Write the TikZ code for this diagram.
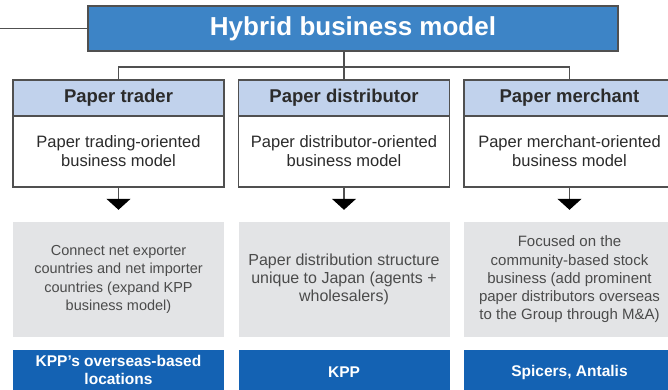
\documentclass[tikz,border=0pt]{standalone}
\usepackage{fontspec}
\setmainfont{Liberation Sans}
\usetikzlibrary{arrows.meta}
\definecolor{titleblue}{HTML}{3D84C6}
\definecolor{hdrblue}{HTML}{C1D2EC}
\definecolor{edgegray}{HTML}{505050}
\definecolor{boxgray}{HTML}{E3E4E6}
\definecolor{deepblue}{HTML}{1462B3}
\definecolor{txt}{HTML}{2B2B2B}
\tikzset{
  titlebox/.style={draw=edgegray, line width=1.4pt, fill=titleblue, text=white,
    minimum width=530pt, minimum height=45pt, inner sep=0pt,
    font=\bfseries\fontsize{26}{30}\selectfont},
  hdrbox/.style={draw=edgegray, line width=1.1pt, fill=hdrblue,
    minimum width=211pt, minimum height=36pt, inner sep=0pt},
  bodybox/.style={draw=edgegray, line width=1.1pt, fill=white,
    minimum width=211pt, minimum height=71pt, inner sep=0pt},
  graybox/.style={fill=boxgray, minimum width=211pt,
    minimum height=115pt, inner sep=0pt},
  bluebox/.style={fill=deepblue, minimum width=211pt,
    minimum height=44pt, inner sep=0pt},
  hdrtext/.style={text=txt, font=\bfseries\fontsize{18.5}{22}\selectfont},
  bodytext/.style={text=txt, align=center, font=\fontsize{16.5}{19}\selectfont},
  graytext/.style={text=txt!85, align=center},
  bluetext/.style={text=white, align=center, font=\bfseries\fontsize{15.5}{18.5}\selectfont},
  conn/.style={draw=edgegray, line width=1.1pt},
  downarrow/.style={draw=edgegray, line width=1.1pt,
    -{Triangle[width=24pt,length=11pt,fill=black,color=black]}, shorten >=12pt},
}
\begin{document}
\begin{tikzpicture}[x=1pt,y=-1pt]
\useasboundingbox (0,0) rectangle (668,389);
\clip (0,0) rectangle (668,389);

\node[titlebox] (top) at (353,28.5) {Hybrid business model};
\coordinate (L) at (0,28.5);
\draw[conn] (L) -- (top.west);

\foreach \i/\x in {1/118.5,2/344,3/569.5}{
  \node[hdrbox] (h\i) at (\x,98) {};
  \node[bodybox] (b\i) at (\x,151.5) {};
  \node[graybox] (g\i) at (\x,279.5) {};
  \node[bluebox] (u\i) at (\x,372) {};
}
\node[hdrtext] (ht1) at (h1) {Paper trader};
\node[hdrtext] (ht2) at (h2) {Paper distributor};
\node[hdrtext] (ht3) at (h3) {Paper merchant};

\node[bodytext] (bt1) at (b1) {Paper trading-oriented\\business model};
\node[bodytext] (bt2) at (b2) {Paper distributor-oriented\\business model};
\node[bodytext] (bt3) at (b3) {Paper merchant-oriented\\business model};

\node[graytext, font=\fontsize{14.5}{18.3}\selectfont] (gt1) at (g1) {Connect net exporter\\countries and net importer\\countries (expand KPP\\business model)};
\node[graytext, font=\fontsize{16}{18.3}\selectfont] (gt2) at (g2) {Paper distribution structure\\unique to Japan (agents +\\wholesalers)};
\node[graytext, font=\fontsize{15}{18.3}\selectfont] (gt3) at (g3) {Focused on the\\community-based stock\\business (add prominent\\paper distributors overseas\\to the Group through M\&A)};

\node[bluetext] (ut1) at (118.5,370) {KPP’s overseas-based\\locations};
\node[bluetext] (ut2) at (u2) {KPP};
\node[bluetext] (ut3) at (u3) {Spicers, Antalis};

\coordinate (j) at (344,67);
\draw[conn] (h2.north |- top.south) -- (h2.north);
\draw[conn] (h1.north) |- (j) -| (h3.north);

\foreach \i in {1,2,3}{
  \draw[downarrow] (b\i.south) -- (g\i.north);
}
\end{tikzpicture}
\end{document}
